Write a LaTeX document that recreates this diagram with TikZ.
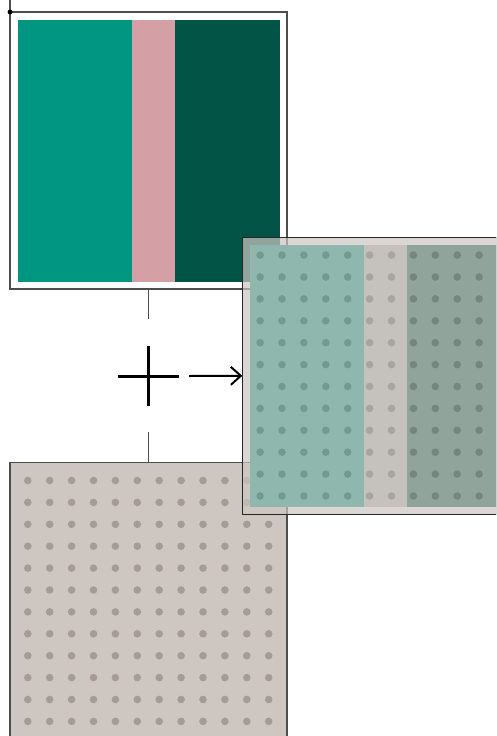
\documentclass[tikz,border=0pt]{standalone}
\usetikzlibrary{arrows.meta}
\definecolor{tealA}{HTML}{009682}
\definecolor{pinkA}{HTML}{D4A0A6}
\definecolor{midB}{HTML}{B4B6B4}
\definecolor{dgreenA}{HTML}{025446}
\definecolor{patgrey}{HTML}{CDC6C1}
\definecolor{dotgrey}{HTML}{A69C95}
\definecolor{frameA}{HTML}{4D4D4D}
\definecolor{frameB}{HTML}{262626}
\tikzset{
  panel/.style={minimum width=277pt, minimum height=277pt, inner sep=0pt, outer sep=0pt},
  framed/.style={draw=frameA, line width=1.3pt},
  link/.style={draw=frameA, line width=1.2pt},
  crossmark/.style={draw=black, line width=3pt},
  arrowline/.style={draw=black, line width=2pt, -{Straight Barb[length=10pt,width=18pt]}},
}
\newcommand{\mystripes}[2]{%
  \fill[tealA]   ([shift={(7.5,7.5)}]#1.north west) rectangle ([shift={(121.5,-7.5)}]#1.south west);
  \fill[#2]      ([shift={(121.5,7.5)}]#1.north west) rectangle ([shift={(164.6,-7.5)}]#1.south west);
  \fill[dgreenA] ([shift={(164.6,7.5)}]#1.north west) rectangle ([shift={(269.5,-7.5)}]#1.south west);
}
\newcommand{\mydots}[1]{%
  \foreach \i in {0,...,11}{\foreach \j in {0,...,11}{%
    \fill[dotgrey] ([shift={({17.8+21.9*\i},{17.8+21.9*\j})}]#1.north west) circle (3.8pt);}}
}
\begin{document}
\begin{tikzpicture}[x=1pt,y=-1pt]
\clip (0,0) rectangle (496,736);
\fill[white] (0,0) rectangle (496,736);
% source image
\node[panel, framed, fill=white] (src) at (148.5,150.5) {};
\mystripes{src}{pinkA}
\draw[link] (src.north west) -- ++(0,-14);
\fill[black] (src.north west) circle (2.4pt);
% pattern
\node[panel, framed, fill=patgrey] (pat) at (148.5,601.2) {};
\mydots{pat}
% connector with plus
\draw[link, dash pattern=on 30pt off 113pt] (src.south) -- (pat.north);
\coordinate (plus) at (148.4,376);
\draw[crossmark] ([yshift=-30]plus) -- ([yshift=30]plus);
\draw[crossmark] ([xshift=-30.7]plus) -- ([xshift=30.7]plus);
% result
\node[panel] (res) at (380.8,375.8) {};
\mystripes{res}{midB}
\begin{scope}[transparency group, opacity=0.7]
  \fill[patgrey] (res.north west) rectangle (res.south east);
  \mydots{res}
\end{scope}
\draw[draw=frameB, line width=1.4pt] (res.north west) rectangle (res.south east);
\coordinate (astart) at (189,376);
\draw[arrowline] (astart) -- (res.west);
\end{tikzpicture}
\end{document}
